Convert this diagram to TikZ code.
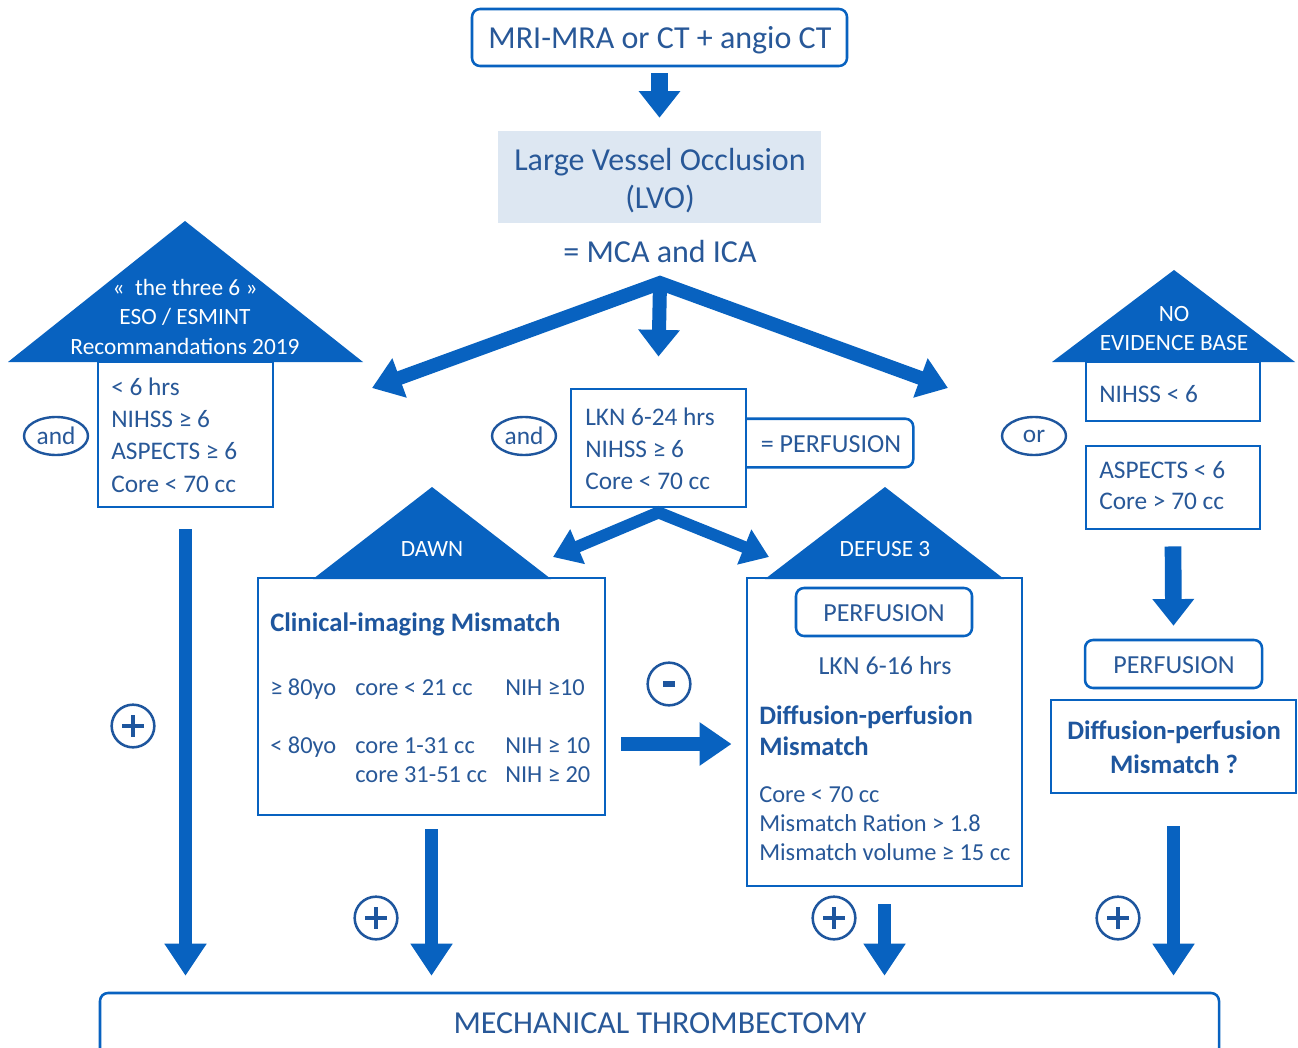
\documentclass[tikz,border=0pt]{standalone}
\usepackage{fontspec}
\setmainfont{Carlito}
\usetikzlibrary{arrows.meta,shapes.geometric,fit,calc}
\definecolor{mblue}{RGB}{8,98,192}
\definecolor{tblue}{RGB}{40,88,152}
\definecolor{dblue}{RGB}{30,86,158}
\definecolor{lvofill}{RGB}{221,231,242}
\begin{document}
\begin{tikzpicture}[x=0.75pt,y=-0.75pt,
  Ttop/.style={text=tblue, inner sep=0pt, font=\fontsize{24}{28}\selectfont, text height=19.7pt, text depth=4.3pt},
  Tb/.style={text=tblue, inner sep=0pt, font=\fontsize{19}{22}\selectfont, text height=15.6pt, text depth=3.4pt},
  Ts/.style={text=tblue, inner sep=0pt, font=\fontsize{18.3}{22}\selectfont, text height=15pt, text depth=3.3pt},
  Tw/.style={text=white, inner sep=0pt, font=\fontsize{17.5}{21}\selectfont, text height=14.35pt, text depth=3.15pt},
  Tbold/.style={text=dblue, inner sep=0pt, font=\fontsize{20}{24}\selectfont\bfseries, text height=16.4pt, text depth=3.6pt},
  Tperf/.style={text=tblue, inner sep=0pt, font=\fontsize{19.5}{23}\selectfont, text height=16pt, text depth=3.5pt},
  bx/.style={draw=mblue, line width=2.2pt, inner sep=0pt},
  rbx/.style={draw=mblue, line width=1.9pt, rounded corners=6pt, inner sep=0pt},
  rline/.style={draw=mblue, line width=1.9pt, rounded corners=6pt},
  ell/.style={ellipse, draw=dblue, line width=1.8pt, minimum width=48pt, minimum height=28.5pt, inner sep=0pt, text=tblue, font=\fontsize{19}{22}\selectfont},
  plusc/.style={circle, draw=dblue, line width=1.9pt, minimum size=32pt, inner sep=0pt,
    path picture={\draw[dblue, line width=3.6pt] ([xshift=-8pt]path picture bounding box.center) -- ([xshift=8pt]path picture bounding box.center);
                  \draw[dblue, line width=3.6pt] ([yshift=-8pt]path picture bounding box.center) -- ([yshift=8pt]path picture bounding box.center);}},
  minusc/.style={circle, draw=dblue, line width=1.9pt, minimum size=32pt, inner sep=0pt,
    path picture={\draw[dblue, line width=3.8pt] ([xshift=-4.5pt]path picture bounding box.center) -- ([xshift=4.5pt]path picture bounding box.center);}},
  arrA/.style={draw=mblue, line width=12.5pt, -{Triangle[length=20pt,width=30pt]}},
  arrB/.style={draw=mblue, line width=10pt, -{Triangle[length=24pt,width=30pt]}},
  arrC/.style={draw=mblue, line width=10.5pt, {Triangle[length=22pt,width=30pt]}-{Triangle[length=22pt,width=30pt]}},
  arrD/.style={draw=mblue, line width=9pt, {Triangle[length=20pt,width=27pt]}-{Triangle[length=20pt,width=27pt]}},
  arrE/.style={draw=mblue, line width=10.5pt, -{Triangle[length=24pt,width=31pt]}},
  arrF/.style={draw=mblue, line width=10.5pt, -{Triangle[length=20pt,width=30pt]}},
]
\useasboundingbox[fill=white] (0,0) rectangle (1298,1048);

% ---------- top ----------
\node[fit={(472,9)(847,66)}, rbx] (top) {};
\node[Ttop] (toptxt) at (660,38) {MRI-MRA or CT + angio CT};
\node[fit={(498,131)(821,223)}, fill=lvofill, inner sep=0pt] (lvo) {};
\node[Ttop] (lvoa) at (660,160) {Large Vessel Occlusion};
\node[Ttop] (lvob) at (660,198) {(LVO)};
\node[Ttop] (mca) at (660,252) {= MCA and ICA};
\draw[arrA] ($(top.south)+(0,6)$) -- ($(lvo.north)+(0,-13)$);

% ---------- left house ----------
\fill[mblue] (8,362) -- (185,221) -- (363,362) -- cycle;
\node[Tw] (h1a) at (185,288) {«\ \ the three 6 »};
\node[Tw] (h1b) at (185,317) {ESO / ESMINT};
\node[Tw] (h1c) at (185,347) {Recommandations 2019};
\node[fit={(98,362)(273,507)}, bx] (esobox) {};
\node[Tb, anchor=west] (e1) at (111,387) {< 6 hrs};
\node[Tb, anchor=west] (e2) at (111,419) {NIHSS ≥ 6};
\node[Tb, anchor=west] (e3) at (111,451) {ASPECTS ≥ 6};
\node[Tb, anchor=west] (e4) at (111,484) {Core < 70 cc};
\node[ell] (and1) at (56,436) {and};

% ---------- middle criteria ----------
\node[fit={(746,419)(913,467)}, inner sep=0pt] (perf0) {};
\draw[rline] (perf0.north west) -- (perf0.north east) -- (perf0.south east) -- (perf0.south west);
\node[Tperf] (perf0t) at (831,444) {= PERFUSION};
\node[fit={(571,389)(746,507)}, bx] (lkn) {};
\node[Tb, anchor=west] (l1) at (585,417) {LKN 6-24 hrs};
\node[Tb, anchor=west] (l2) at (585,449) {NIHSS ≥ 6};
\node[Tb, anchor=west] (l3) at (585,481) {Core < 70 cc};
\node[ell] (and2) at (524,436) {and};

% ---------- three arrows ----------
\coordinate (apex) at (660,283);
\coordinate (lefttip) at (372,388);
\coordinate (righttip) at (948,388);
\draw[arrC] (lefttip) -- (apex) -- (righttip);
\draw[arrF] (apex) -- ($(lkn.north)+(0,-31)$);

% ---------- DAWN ----------
\fill[mblue] (313,579) -- (432,487) -- (551,579) -- cycle;
\node[Tw] (dawnlbl) at (432,549) {DAWN};
\node[fit={(258,578)(605,815)}, bx] (dawn) {};
\node[Tbold, anchor=west] (d0) at (270,623) {Clinical-imaging Mismatch};
\node[Ts, anchor=west] (d1a) at (270,688) {≥ 80yo};
\node[Ts, anchor=west] (d1b) at (355,688) {core < 21 cc};
\node[Ts, anchor=west] (d1c) at (505,688) {NIH ≥10};
\node[Ts, anchor=west] (d2a) at (270,746) {< 80yo};
\node[Ts, anchor=west] (d2b) at (355,746) {core 1-31 cc};
\node[Ts, anchor=west] (d2c) at (505,746) {NIH ≥ 10};
\node[Ts, anchor=west] (d3b) at (355,775) {core 31-51 cc};
\node[Ts, anchor=west] (d3c) at (505,775) {NIH ≥ 20};

% ---------- DEFUSE 3 ----------
\fill[mblue] (765,579) -- (885,487) -- (1004,579) -- cycle;
\node[Tw] (deflbl) at (885,549) {DEFUSE 3};
\node[fit={(747,578)(1022,886)}, bx] (defuse) {};
\node[fit={(796,588)(972,636)}, rbx] (perf1) {};
\node[Tperf] (perf1t) at (884,613) {PERFUSION};
\node[Tperf] (lkn2) at (885,666) {LKN 6-16 hrs};
\node[Tbold, anchor=west] (f1) at (759,716) {Diffusion-perfusion};
\node[Tbold, anchor=west] (f2) at (759,747) {Mismatch};
\node[Ts, anchor=west] (f3) at (759,795) {Core < 70 cc};
\node[Ts, anchor=west] (f4) at (759,824) {Mismatch Ration > 1.8};
\node[Ts, anchor=west] (f5) at (759,853) {Mismatch volume ≥ 15 cc};

% middle split arrows
\coordinate (dawntip) at (553,557);
\coordinate (deftip) at (769,557);
\draw[arrD] (dawntip) -- ($(lkn.south)+(0,4)$) -- (deftip);

% minus
\node[minusc] (minus) at (669,684) {};
\draw[arrE] ($(dawn.east)+(15,47.5)$) -- ($(defuse.west)+(-14,12)$);

% ---------- right ----------
\node[ell] (orn) at (1034,436) {or};
\fill[mblue] (1052,362) -- (1174,270) -- (1295,362) -- cycle;
\node[Tw] (n1) at (1174,314) {NO};
\node[Tw] (n2) at (1174,343) {EVIDENCE BASE};
\node[fit={(1086,362)(1260,421)}, bx] (nih) {};
\node[Tb, anchor=west] (nt) at (1099,394) {NIHSS < 6};
\node[fit={(1086,446)(1260,529)}, bx] (asp) {};
\node[Tb, anchor=west] (a1) at (1099,470) {ASPECTS < 6};
\node[Tb, anchor=west] (a2) at (1099,501) {Core > 70 cc};
\node[fit={(1085,640)(1262,688)}, rbx] (perf2) {};
\node[Tperf] (perf2t) at (1174,665) {PERFUSION};
\draw[arrA] ($(asp.south)+(0,16)$) -- ($(perf2.north)+(0,-13)$);
\node[fit={(1051,700)(1296,793)}, bx] (dpm) {};
\node[Tbold] (dp1) at (1174,731) {Diffusion-perfusion};
\node[Tbold] (dp2) at (1174,765) {Mismatch ?};

% ---------- bottom ----------
\node[fit={(100,993)(1219,1075)}, rbx] (mt) {};
\node[Ttop] (mtt) at (660,1023) {MECHANICAL THROMBECTOMY};
\draw[arrB] ($(esobox.south)+(0,21)$) -- ($(esobox.south |- mt.north)+(0,-16)$);
\draw[arrB] ($(dawn.south)+(0,13)$) -- ($(dawn.south |- mt.north)+(0,-16)$);
\draw[arrB] ($(defuse.south)+(0,17)$) -- ($(defuse.south |- mt.north)+(0,-16)$);
\draw[arrB] ($(dpm.south)+(0,32)$) -- ($(dpm.south |- mt.north)+(0,-16)$);
\node[plusc] (p1) at (133,726) {};
\node[plusc] (p2) at (376,918) {};
\node[plusc] (p3) at (834,918) {};
\node[plusc] (p4) at (1118,918) {};
\end{tikzpicture}
\end{document}
